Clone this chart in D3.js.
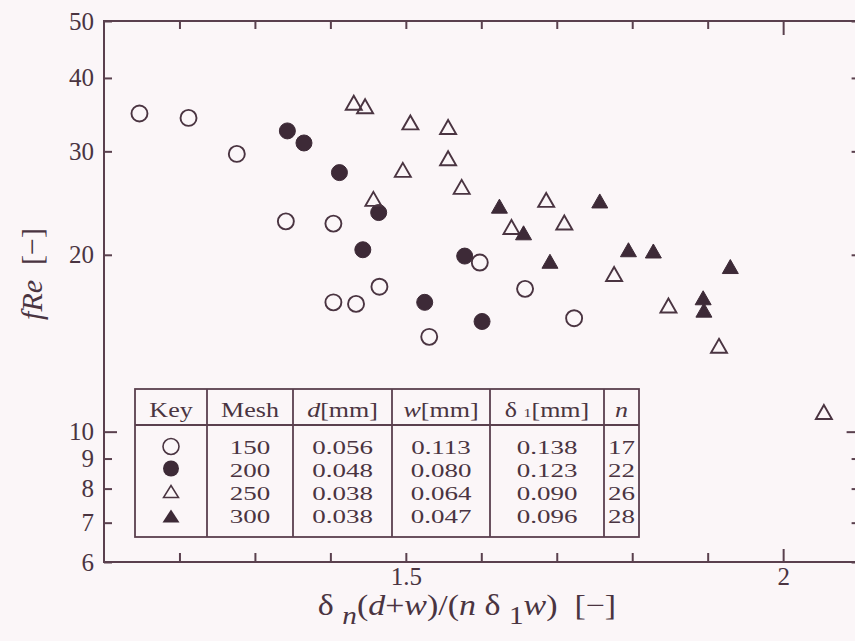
<!DOCTYPE html>
<html>
<head>
<meta charset="utf-8">
<script src="https://cdn.jsdelivr.net/npm/d3@7"></script>
<style>
  html, body { margin: 0; padding: 0; background: #fbf6f8; }
  svg { display: block; }
  text { font-family: "Liberation Serif", "Times New Roman", serif; fill: #4a3441; }
</style>
</head>
<body>
<svg id="chart" width="855" height="641"></svg>
<script>
// ---- data: friction factor fRe against the dimensionless spacing parameter ----
const mesh150X = [1.147, 1.212, 1.276, 1.341, 1.404, 1.404, 1.434, 1.465, 1.598, 1.658, 1.723, 1.531];
const mesh150Y = [34.8, 34.2, 29.7, 22.8, 22.6, 16.6, 16.5, 17.65, 19.4, 17.5, 15.6, 14.5];

const mesh200X = [1.343, 1.365, 1.412, 1.464, 1.443, 1.578, 1.525, 1.601];
const mesh200Y = [32.5, 31.0, 27.6, 23.6, 20.4, 19.9, 16.6, 15.4];

const mesh250X = [1.431, 1.446, 1.457, 1.496, 1.506, 1.556, 1.556, 1.574, 1.686, 1.640, 1.710, 1.776, 1.848, 1.915, 2.054];
const mesh250Y = [36.3, 35.8, 24.9, 27.9, 33.6, 33.0, 29.2, 26.1, 24.8, 22.3, 22.7, 18.55, 16.4, 14.0, 10.8];

const mesh300X = [1.624, 1.656, 1.757, 1.691, 1.795, 1.828, 1.930, 1.894, 1.895];
const mesh300Y = [24.2, 21.8, 24.7, 19.5, 20.4, 20.3, 19.1, 16.9, 16.1];

// axis ticks
const xTickValues = [1.2, 1.3, 1.4, 1.5, 1.6, 1.7, 1.8, 1.9, 2.0];
const xTickLabels = { "1.5": "1.5", "2": "2" };
const yTickValues = [6, 7, 8, 9, 10, 20, 30, 40, 50];

// key table contents
const tableMesh = ["150", "200", "250", "300"];
const tableD = ["0.056", "0.048", "0.038", "0.038"];
const tableW = ["0.113", "0.080", "0.064", "0.047"];
const tableDelta1 = ["0.138", "0.123", "0.090", "0.096"];
const tableN = ["17", "22", "26", "28"];

// ---- layout ----
const ink = "#4a3441";
const fillInk = "#3d2a37";
const axisInk = "#5a404e";

const plot = { left: 104, right: 858.6, top: 21, bottom: 562 };

const svg = d3.select("#chart");

const x = d3.scaleLinear().domain([1.1, 2.1]).range([plot.left, plot.right]);
const y = d3.scaleLog().domain([6, 50]).range([plot.bottom, plot.top]);

// frame
svg.append("rect")
  .attr("x", plot.left).attr("y", plot.top)
  .attr("width", plot.right - plot.left).attr("height", plot.bottom - plot.top)
  .attr("fill", "none").attr("stroke", axisInk).attr("stroke-width", 2);

// bottom axis
const gx = svg.append("g")
  .attr("transform", `translate(0,${plot.bottom})`)
  .call(d3.axisBottom(x).tickValues(xTickValues).tickSize(-9).tickPadding(5)
    .tickFormat(d => xTickLabels[String(+d.toFixed(1))] || ""));
gx.select(".domain").remove();
gx.selectAll(".tick line").attr("stroke", axisInk).attr("stroke-width", 2)
  .attr("y2", d => Math.abs(d - 2) < 1e-9 ? -13 : -9);
gx.selectAll(".tick text").attr("font-size", 25).attr("fill", ink)
  .style("font-family", '"Liberation Serif", serif');

// top axis (ticks only)
const gxt = svg.append("g")
  .attr("transform", `translate(0,${plot.top})`)
  .call(d3.axisTop(x).tickValues(xTickValues).tickSize(-8).tickFormat(() => ""));
gxt.select(".domain").remove();
gxt.selectAll(".tick line").attr("stroke", axisInk).attr("stroke-width", 2)
  .attr("y2", d => Math.abs(d - 2) < 1e-9 ? 14 : 8);

// left axis
const gy = svg.append("g")
  .attr("transform", `translate(${plot.left},0)`)
  .call(d3.axisLeft(y).tickValues(yTickValues).tickSize(-8).tickPadding(10)
    .tickFormat(d3.format("d")));
gy.select(".domain").remove();
gy.selectAll(".tick line").attr("stroke", axisInk).attr("stroke-width", 2)
  .attr("x2", d => d === 10 ? 13 : 8);
gy.selectAll(".tick text").attr("font-size", 25).attr("fill", ink)
  .style("font-family", '"Liberation Serif", serif');

// right axis (ticks only)
const gyr = svg.append("g")
  .attr("transform", `translate(${plot.right},0)`)
  .call(d3.axisRight(y).tickValues(yTickValues).tickSize(-7).tickFormat(() => ""));
gyr.select(".domain").remove();
gyr.selectAll(".tick line").attr("stroke", axisInk).attr("stroke-width", 2)
  .attr("x2", d => d === 10 ? -12 : -7);

// ---- markers ----
const R = 8;
function triPath(w, h) {
  return `M0,${-h / 2}L${w / 2},${h / 2}L${-w / 2},${h / 2}Z`;
}

function drawSeries(xs, ys, kind) {
  const g = svg.append("g");
  const pts = xs.map((v, i) => [v, ys[i]]);
  if (kind === "openCircle" || kind === "filledCircle") {
    g.selectAll("circle").data(pts).join("circle")
      .attr("cx", d => x(d[0])).attr("cy", d => y(d[1])).attr("r", R)
      .attr("fill", kind === "filledCircle" ? fillInk : "none")
      .attr("stroke", kind === "filledCircle" ? fillInk : ink)
      .attr("stroke-width", kind === "filledCircle" ? 1 : 1.9);
  } else {
    g.selectAll("path").data(pts).join("path")
      .attr("transform", d => `translate(${x(d[0])},${y(d[1])})`)
      .attr("d", triPath(16, 14))
      .attr("fill", kind === "filledTriangle" ? fillInk : "none")
      .attr("stroke", kind === "filledTriangle" ? fillInk : ink)
      .attr("stroke-width", kind === "filledTriangle" ? 1 : 1.9)
      .attr("stroke-linejoin", "miter");
  }
}

drawSeries(mesh150X, mesh150Y, "openCircle");
drawSeries(mesh200X, mesh200Y, "filledCircle");
drawSeries(mesh250X, mesh250Y, "openTriangle");
drawSeries(mesh300X, mesh300Y, "filledTriangle");

// ---- key table ----
const tbl = { left: 135, top: 389, headBottom: 425, bottom: 537, right: 639 };
const colEdges = [135, 207, 293, 392, 490, 604, 639];
const rowBase = [454, 476.5, 499.5, 523];
const symbolY = [446.5, 468.5, 491.5, 516];

const tg = svg.append("g");
tg.append("rect")
  .attr("x", tbl.left).attr("y", tbl.top)
  .attr("width", tbl.right - tbl.left).attr("height", tbl.bottom - tbl.top)
  .attr("fill", "#fbf6f8").attr("stroke", axisInk).attr("stroke-width", 1.8);
tg.append("line")
  .attr("x1", tbl.left).attr("x2", tbl.right)
  .attr("y1", tbl.headBottom).attr("y2", tbl.headBottom)
  .attr("stroke", axisInk).attr("stroke-width", 1.8);
colEdges.slice(1, -1).forEach(cx => {
  tg.append("line")
    .attr("x1", cx).attr("x2", cx).attr("y1", tbl.top).attr("y2", tbl.bottom)
    .attr("stroke", axisInk).attr("stroke-width", 1.8);
});

const colCenter = i => (colEdges[i] + colEdges[i + 1]) / 2;

// header row
const headY = 417;
function headCell(i, parts) {
  const t = tg.append("text")
    .attr("transform", `translate(${colCenter(i)},${headY}) scale(1,0.84)`)
    .attr("text-anchor", "middle").attr("font-size", 26);
  parts.forEach(p => {
    const s = t.append("tspan").text(p.t);
    if (p.i) s.attr("font-style", "italic");
    if (p.small) s.attr("font-size", 16);
  });
}
headCell(0, [{ t: "Key" }]);
headCell(1, [{ t: "Mesh" }]);
headCell(2, [{ t: "d", i: true }, { t: "[mm]" }]);
headCell(3, [{ t: "w", i: true }, { t: "[mm]" }]);
headCell(4, [{ t: "δ " }, { t: "1", small: true }, { t: "[mm]" }]);
headCell(5, [{ t: "n", i: true }]);

// body rows
const bodyCols = [tableMesh, tableD, tableW, tableDelta1, tableN];
bodyCols.forEach((col, ci) => {
  col.forEach((v, ri) => {
    tg.append("text")
      .attr("transform", `translate(${colCenter(ci + 1)},${rowBase[ri]}) scale(1,0.7)`)
      .attr("text-anchor", "middle").attr("font-size", 27)
      .text(v);
  });
});

// key symbols
const keyX = colCenter(0);
tg.append("circle").attr("cx", keyX).attr("cy", symbolY[0]).attr("r", 8)
  .attr("fill", "none").attr("stroke", ink).attr("stroke-width", 1.6);
tg.append("circle").attr("cx", keyX).attr("cy", symbolY[1]).attr("r", 8)
  .attr("fill", fillInk);
tg.append("path").attr("transform", `translate(${keyX},${symbolY[2]})`)
  .attr("d", triPath(15, 12)).attr("fill", "none").attr("stroke", ink).attr("stroke-width", 1.5);
tg.append("path").attr("transform", `translate(${keyX},${symbolY[3]})`)
  .attr("d", triPath(17, 13)).attr("fill", fillInk);

// ---- axis titles ----
const xt = svg.append("text")
  .attr("transform", "translate(467,615) scale(1.17,1)")
  .attr("text-anchor", "middle").attr("font-size", 29);
const xtParts = [
  { t: "δ " }, { t: "n", i: true, sub: true }, { t: "(" }, { t: "d", i: true }, { t: "+" },
  { t: "w", i: true }, { t: ")/(" }, { t: "n", i: true }, { t: " δ " },
  { t: "1", sub: true }, { t: "w", i: true }, { t: ")  [−]" }
];
xtParts.forEach((p, i) => {
  const prevSub = i > 0 && xtParts[i - 1].sub;
  const s = xt.append("tspan").text(p.t);
  if (p.i) s.attr("font-style", "italic");
  if (p.sub) s.attr("dy", 9).attr("font-size", 25);
  else if (prevSub) s.attr("dy", -9);
});
xt.attr("xml:space", "preserve");

const yt = svg.append("text")
  .attr("transform", "translate(42,274) rotate(-90)")
  .attr("text-anchor", "middle").attr("font-size", 30);
yt.append("tspan").attr("font-style", "italic").text("fRe");
yt.append("tspan").text("\u00a0 [−]");
</script>
</body>
</html>
